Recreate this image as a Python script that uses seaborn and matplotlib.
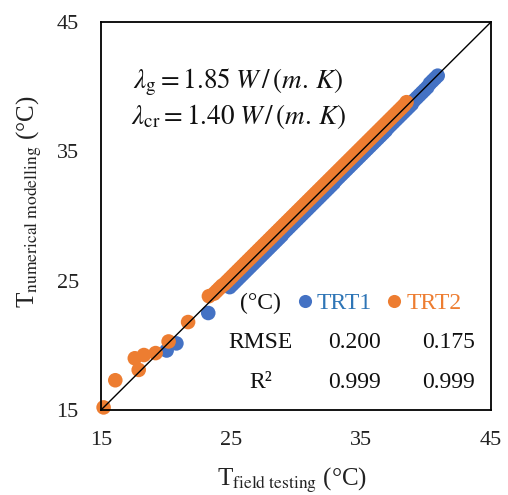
import numpy as np
import pandas as pd
import seaborn as sns
import matplotlib.pyplot as plt

# ---- data ----
trt1_field = [20.05, 20.8, 23.25,
              24.9, 25.1, 25.3, 25.5, 25.7, 25.9, 26.1, 26.3, 26.5, 26.7, 26.9,
              27.1, 27.3, 27.5, 27.7, 27.9, 28.1, 28.3, 28.5, 28.7, 28.9,
              29.1, 29.3, 29.5, 29.7, 29.9, 30.1, 30.3, 30.5, 30.7, 30.9,
              31.1, 31.3, 31.5, 31.7, 31.9, 32.1, 32.3, 32.5, 32.7, 32.9,
              33.1, 33.3, 33.5, 33.7, 33.9, 34.1, 34.3, 34.5, 34.7, 34.9,
              35.1, 35.3, 35.5, 35.7, 35.9, 36.1, 36.3, 36.5, 36.7, 36.9,
              37.1, 37.3, 37.5, 37.7, 37.9, 38.1, 38.3, 38.5, 38.7, 38.9,
              39.1, 39.3, 39.5, 39.7, 39.9, 40.1,
              40.3, 40.5, 40.7, 40.9]
trt1_model = [19.6, 20.15, 22.5,
              24.5, 24.7, 24.9, 25.1, 25.3, 25.5, 25.7, 25.9, 26.1, 26.3, 26.5,
              26.7, 26.9, 27.1, 27.3, 27.5, 27.7, 27.9, 28.1, 28.3, 28.5,
              28.75, 28.95, 29.15, 29.35, 29.55, 29.75, 29.95, 30.15, 30.35, 30.55,
              30.75, 30.95, 31.15, 31.35, 31.55, 31.75, 31.95, 32.15, 32.35, 32.55,
              32.8, 33.0, 33.2, 33.4, 33.6, 33.8, 34.0, 34.2, 34.4, 34.6,
              34.8, 35.0, 35.2, 35.4, 35.6, 35.8, 36.0, 36.2, 36.4, 36.6,
              36.85, 37.05, 37.25, 37.45, 37.65, 37.85, 38.05, 38.25, 38.45, 38.65,
              38.95, 39.15, 39.35, 39.55, 39.75, 39.95,
              40.25, 40.45, 40.65, 40.85]

trt2_field = [15.2, 16.1, 17.6, 17.9, 18.3, 19.2, 20.2, 21.7, 23.3,
              23.7, 23.9, 24.1, 24.3, 24.5, 24.7, 24.9, 25.1, 25.3, 25.5,
              25.7, 25.9, 26.1, 26.3, 26.5, 26.7, 26.9, 27.1, 27.3, 27.5,
              27.7, 27.9, 28.1, 28.3, 28.5, 28.7, 28.9, 29.1, 29.3, 29.5,
              29.7, 29.9, 30.1, 30.3, 30.5, 30.7, 30.9, 31.1, 31.3, 31.5,
              31.7, 31.9, 32.1, 32.3, 32.5, 32.7, 32.9, 33.1, 33.3, 33.5,
              33.7, 33.9, 34.1, 34.3, 34.5, 34.7, 34.9, 35.1, 35.3, 35.5,
              35.7, 35.9, 36.1, 36.3, 36.5, 36.7, 36.9, 37.1, 37.3, 37.5,
              37.7, 37.9, 38.1, 38.3, 38.5]
trt2_model = [15.2, 17.3, 19.0, 18.1, 19.25, 19.4, 20.3, 21.8, 23.8,
              24.0, 24.2, 24.4, 24.6, 24.75, 24.95, 25.15, 25.35, 25.55, 25.75,
              25.95, 26.15, 26.35, 26.55, 26.75, 26.95, 27.15, 27.35, 27.55, 27.75,
              27.95, 28.15, 28.35, 28.55, 28.75, 28.95, 29.15, 29.35, 29.55, 29.75,
              29.95, 30.15, 30.35, 30.55, 30.75, 30.95, 31.15, 31.35, 31.55, 31.75,
              31.95, 32.15, 32.35, 32.55, 32.75, 32.95, 33.15, 33.35, 33.55, 33.75,
              33.95, 34.15, 34.35, 34.55, 34.75, 34.95, 35.15, 35.35, 35.55, 35.75,
              35.95, 36.15, 36.35, 36.55, 36.75, 36.95, 37.15, 37.35, 37.55, 37.75,
              37.95, 38.15, 38.35, 38.55, 38.8]

series_names = ["TRT1", "TRT2"]
rmse = ["0.200", "0.175"]
r2 = ["0.999", "0.999"]
axis_ticks = [15, 25, 35, 45]
one_to_one = [15, 45]

colors = {"TRT1": "#4472C4", "TRT2": "#ED7D31"}
text_colors = {"TRT1": "#2E75B6", "TRT2": "#ED7D31"}

df = pd.concat([
    pd.DataFrame({"field": trt1_field, "model": trt1_model, "series": "TRT1"}),
    pd.DataFrame({"field": trt2_field, "model": trt2_model, "series": "TRT2"}),
], ignore_index=True)

# ---- style ----
sns.set_theme(style="white")
plt.rcParams['font.family'] = ['Liberation Serif', 'DejaVu Serif']
plt.rcParams['mathtext.fontset'] = 'stix'

fig = plt.figure(figsize=(5.08, 4.95), dpi=100)
ax = fig.add_axes([101/508, 1 - 410/495, 390/508, 388/495])

sns.scatterplot(data=df, x="field", y="model", hue="series", palette=colors,
                s=110, linewidth=0, alpha=1, ax=ax, zorder=2, clip_on=False)
ax.plot(one_to_one, one_to_one, color="black", lw=1.0, zorder=3)

ax.set_xlim(axis_ticks[0], axis_ticks[-1])
ax.set_ylim(axis_ticks[0], axis_ticks[-1])
ax.set_xticks(axis_ticks)
ax.set_yticks(axis_ticks)
ax.tick_params(axis='x', length=0, pad=15, labelsize=16, colors='#222222')
ax.tick_params(axis='y', length=0, pad=16, labelsize=16, colors='#222222')
for sp in ax.spines.values():
    sp.set_color('black')
    sp.set_linewidth(1.3)

ax.set_xlabel(r'T$_{\mathrm{field\ testing}}$ (°C)', fontsize=18, color='#222222')
ax.set_ylabel(r'T$_{\mathrm{numerical\ modelling}}$ (°C)', fontsize=18, color='#222222')
ax.xaxis.set_label_coords(0.49, -0.145)
ax.yaxis.set_label_coords(-0.147, 0.536)

# lambda annotations
ax.text(25.55, 40.36, r'$\lambda_{\mathrm{g}} = 1.85\;W\,/\,(m.\,K)$', fontsize=19.5,
        ha='center', va='center', color='#111111')
ax.text(25.55, 37.73, r'$\lambda_{\mathrm{cr}} = 1.40\;W\,/\,(m.\,K)$', fontsize=19.5,
        ha='center', va='center', color='#111111')

# legend row
sns.move_legend(ax, loc='center left', bbox_to_anchor=((299 - 101) / 390, (410 - 303) / 388),
                ncol=2, frameon=False, title="", fontsize=17, borderpad=0,
                borderaxespad=0, handlelength=0.5, handletextpad=0.25,
                columnspacing=0.7, markerscale=0.9)
leg = ax.get_legend()
for t in leg.get_texts():
    t.set_color(text_colors[t.get_text()])

# table text
tbl_x = 27.3
ax.text(tbl_x, 23.27, "(°C)", fontsize=17, ha='center', va='center', color='#111111')
ax.text(tbl_x, 20.25, "RMSE", fontsize=17, ha='center', va='center', color='#111111')
ax.text(tbl_x, 17.16, "R²", fontsize=17, ha='center', va='center', color='#111111')
col_x = [34.5, 41.7]
for cx, v1, v2 in zip(col_x, rmse, r2):
    ax.text(cx, 20.25, v1, fontsize=17, ha='center', va='center', color='#111111')
    ax.text(cx, 17.16, v2, fontsize=17, ha='center', va='center', color='#111111')

fig.savefig("out.png", dpi=100)
